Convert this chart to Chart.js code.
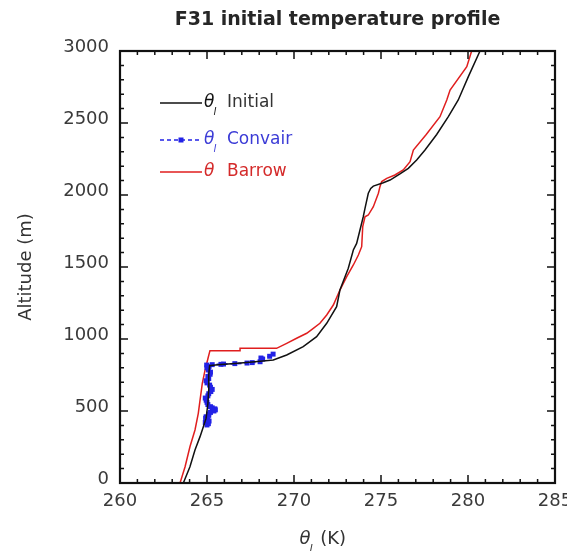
<!DOCTYPE html>
<html lang="en">
  <head>
    <meta charset="UTF-8" />
    <title>F31 initial temperature profile</title>
    <script src="https://cdn.jsdelivr.net/npm/chart.js"></script>
    <style>
      body {
        margin: 0;
        background: #ffffff;
      }
      canvas {
        display: block;
      }
    </style>
  </head>
  <body>
    <canvas id="profileChart" width="567" height="551"></canvas>

    <script>
      // Potential temperature (K) against altitude (m)
      const chartTitle = "F31 initial temperature profile";
      const seriesNames = ["Initial", "Convair", "Barrow"];

      const initialAlt = [0, 113, 229, 322, 391, 450, 550, 650, 750, 815, 822, 830, 840, 854, 889, 947, 1016, 1109, 1224, 1340, 1491, 1618, 1664, 1849, 1907, 2012, 2046, 2062, 2085, 2104, 2146, 2185, 2243, 2312, 2420, 2544, 2660, 2822, 3000];
      const initialTemp = [263.64, 264.02, 264.31, 264.6, 264.79, 264.95, 265.05, 265.1, 265.1, 265.15, 265.6, 266.6, 267.6, 268.81, 269.58, 270.53, 271.3, 271.88, 272.45, 272.64, 273.12, 273.41, 273.6, 273.98, 274.08, 274.27, 274.41, 274.56, 275.13, 275.52, 276.09, 276.57, 277.05, 277.53, 278.2, 278.87, 279.44, 280.02, 280.69];

      const convairAlt = [403, 412, 420, 430, 440, 450, 460, 470, 480, 490, 500, 508, 515, 522, 530, 545, 560, 575, 590, 605, 620, 635, 650, 665, 680, 695, 710, 725, 740, 755, 770, 785, 800, 810, 819, 822, 824, 826, 829, 833, 836, 842, 860, 868, 880, 895];
      const convairTemp = [265.0, 265.08, 264.9, 265.12, 265.05, 264.92, 264.95, 265.1, 265.1, 265.2, 265.4, 265.48, 265.45, 265.3, 265.2, 265.05, 265.0, 264.95, 264.9, 265.05, 265.1, 265.22, 265.3, 265.2, 265.15, 265.0, 264.95, 265.1, 265.05, 265.18, 265.2, 265.08, 265.0, 265.12, 264.98, 265.3, 265.8, 265.95, 266.6, 267.3, 267.6, 268.05, 268.2, 268.1, 268.6, 268.8];

      const barrowAlt = [0, 113, 252, 368, 484, 576, 692, 785, 877, 919, 919, 935, 935, 970, 1005, 1040, 1074, 1109, 1167, 1236, 1340, 1433, 1514, 1583, 1641, 1780, 1849, 1861, 1919, 2012, 2058, 2093, 2116, 2139, 2174, 2231, 2312, 2420, 2544, 2660, 2729, 2891, 3000];
      const barrowTemp = [263.45, 263.74, 264.02, 264.31, 264.5, 264.6, 264.73, 264.89, 265.08, 265.17, 266.9, 266.9, 269.0, 269.58, 270.15, 270.73, 271.11, 271.49, 271.88, 272.26, 272.64, 273.03, 273.41, 273.7, 273.89, 273.95, 274.08, 274.27, 274.56, 274.85, 274.94, 275.04, 275.33, 275.8, 276.28, 276.67, 276.86, 277.6, 278.39, 278.78, 278.97, 279.93, 280.21];

      const tempRange = [260, 285];
      const altRange = [0, 3000];

      const FONT = "'DejaVu Sans', sans-serif";
      const colors = ["#111111", "#2222e6", "#e01e1e"];
      const textColors = ["#333333", "#3b3bd6", "#d42a2a"];

      const toPoints = (xs, ys) => xs.map((x, i) => ({ x: x, y: ys[i] }));

      // Frame around the plot with inward ticks on all four sides
      const frameTicks = {
        id: "frameTicks",
        afterDraw(chart) {
          const { ctx, chartArea: a } = chart;
          const x = chart.scales.x;
          const y = chart.scales.y;
          ctx.save();
          ctx.strokeStyle = "#111";
          ctx.lineWidth = 1.5;
          for (let t = tempRange[0]; t <= tempRange[1]; t++) {
            const px = x.getPixelForValue(t);
            const len = t % 5 === 0 ? 8 : 4;
            ctx.beginPath();
            ctx.moveTo(px, a.bottom);
            ctx.lineTo(px, a.bottom - len);
            ctx.moveTo(px, a.top);
            ctx.lineTo(px, a.top + len);
            ctx.stroke();
          }
          for (let h = altRange[0]; h <= altRange[1]; h += 100) {
            const py = y.getPixelForValue(h);
            const len = h % 500 === 0 ? 8 : 4;
            ctx.beginPath();
            ctx.moveTo(a.left, py);
            ctx.lineTo(a.left + len, py);
            ctx.moveTo(a.right, py);
            ctx.lineTo(a.right - len, py);
            ctx.stroke();
          }
          ctx.lineWidth = 2.2;
          ctx.strokeRect(a.left, a.top, a.right - a.left, a.bottom - a.top);
          ctx.restore();
        },
      };

      // Title centred over the plot area rather than the whole canvas
      const plotTitle = {
        id: "plotTitle",
        afterDraw(chart) {
          const { ctx, chartArea: a } = chart;
          ctx.save();
          ctx.font = "bold 19px " + FONT;
          ctx.fillStyle = "#262626";
          ctx.textAlign = "center";
          ctx.textBaseline = "middle";
          ctx.fillText(chartTitle, (a.left + a.right) / 2, 20);
          ctx.restore();
        },
      };

      // theta with a subscript l, used by the legend and the x axis title
      function drawTheta(ctx, x, y, size, color, withSub) {
        ctx.fillStyle = color;
        ctx.textBaseline = "middle";
        ctx.textAlign = "left";
        ctx.font = "italic " + size + "px " + FONT;
        ctx.fillText("\u03B8", x, y);
        const w = ctx.measureText("\u03B8").width;
        if (withSub) {
          ctx.font = "italic " + Math.round(size * 0.6) + "px " + FONT;
          ctx.fillText("l", x + w - 1, y + size * 0.55);
        }
        return w;
      }

      const customLegend = {
        id: "customLegend",
        afterDraw(chart) {
          const { ctx, chartArea: a } = chart;
          ctx.save();
          const x0 = a.left + 40;
          const lineLen = 42;
          const rows = [a.top + 52, a.top + 89, a.top + 121];
          chart.data.datasets.forEach((ds, i) => {
            const ry = rows[i];
            ctx.strokeStyle = ds.borderColor;
            ctx.lineWidth = 1.6;
            ctx.setLineDash(ds.borderDash || []);
            ctx.beginPath();
            ctx.moveTo(x0, ry);
            ctx.lineTo(x0 + lineLen, ry);
            ctx.stroke();
            ctx.setLineDash([]);
            if (ds.pointRadius > 0) {
              ctx.fillStyle = ds.pointBackgroundColor;
              ctx.fillRect(x0 + lineLen / 2 - 2.5, ry - 2.5, 5, 5);
            }
            const thetaColor = i === 0 ? "#111" : textColors[i];
            drawTheta(ctx, x0 + lineLen + 2, ry, 17, thetaColor, i < 2);
            ctx.font = "17px " + FONT;
            ctx.fillStyle = textColors[i];
            ctx.textBaseline = "middle";
            ctx.fillText(seriesNames[i], x0 + lineLen + 25, ry);
          });
          ctx.restore();
        },
      };

      const xAxisTitle = {
        id: "xAxisTitle",
        afterDraw(chart) {
          const { ctx, chartArea: a } = chart;
          ctx.save();
          const cx = (a.left + a.right) / 2 - 38;
          const cy = a.bottom + 56;
          const w = drawTheta(ctx, cx, cy, 18, "#333", true);
          ctx.font = "18px " + FONT;
          ctx.fillStyle = "#333";
          ctx.fillText(" (K)", cx + w + 4, cy);
          ctx.restore();
        },
      };

      const ctx = document.getElementById("profileChart").getContext("2d");
      new Chart(ctx, {
        type: "scatter",
        data: {
          datasets: [
            {
              label: seriesNames[0],
              data: toPoints(initialTemp, initialAlt),
              showLine: true,
              borderColor: colors[0],
              borderWidth: 1.5,
              pointRadius: 0,
              tension: 0,
            },
            {
              label: seriesNames[1],
              data: toPoints(convairTemp, convairAlt),
              showLine: true,
              borderColor: colors[1],
              borderWidth: 1.8,
              borderDash: [4, 3],
              pointStyle: "rect",
              pointRadius: 3.5,
              pointBackgroundColor: colors[1],
              pointBorderColor: colors[1],
              pointBorderWidth: 0,
              tension: 0,
            },
            {
              label: seriesNames[2],
              data: toPoints(barrowTemp, barrowAlt),
              showLine: true,
              borderColor: colors[2],
              borderWidth: 1.5,
              pointRadius: 0,
              tension: 0,
            },
          ],
        },
        options: {
          responsive: false,
          animation: false,
          layout: {
            padding: { left: 0, right: 12, top: 51, bottom: 0 },
          },
          plugins: {
            legend: { display: false },
            tooltip: { enabled: false },
            title: { display: false },
          },
          scales: {
            x: {
              type: "linear",
              min: tempRange[0],
              max: tempRange[1],
              grid: { display: false, drawTicks: false },
              border: { display: false },
              ticks: {
                stepSize: 5,
                padding: 8,
                color: "#3a3a3a",
                font: { family: FONT, size: 18 },
                callback: (v) => String(v),
              },
              afterFit(scale) {
                scale.height = 68;
                scale.paddingLeft = 0;
                scale.paddingRight = 0;
              },
            },
            y: {
              type: "linear",
              min: altRange[0],
              max: altRange[1],
              grid: { display: false, drawTicks: false },
              border: { display: false },
              ticks: {
                stepSize: 500,
                padding: 11,
                labelOffset: -4,
                color: "#3a3a3a",
                font: { family: FONT, size: 18 },
                callback: (v) => String(v),
              },
              title: {
                display: true,
                text: "Altitude (m)",
                color: "#333",
                font: { family: FONT, size: 18 },
                padding: { top: 16, bottom: 0 },
              },
              afterFit(scale) {
                scale.width = 120;
                scale.paddingTop = 0;
                scale.paddingBottom = 0;
              },
            },
          },
        },
        plugins: [frameTicks, plotTitle, customLegend, xAxisTitle],
      });
    </script>
  </body>
</html>
